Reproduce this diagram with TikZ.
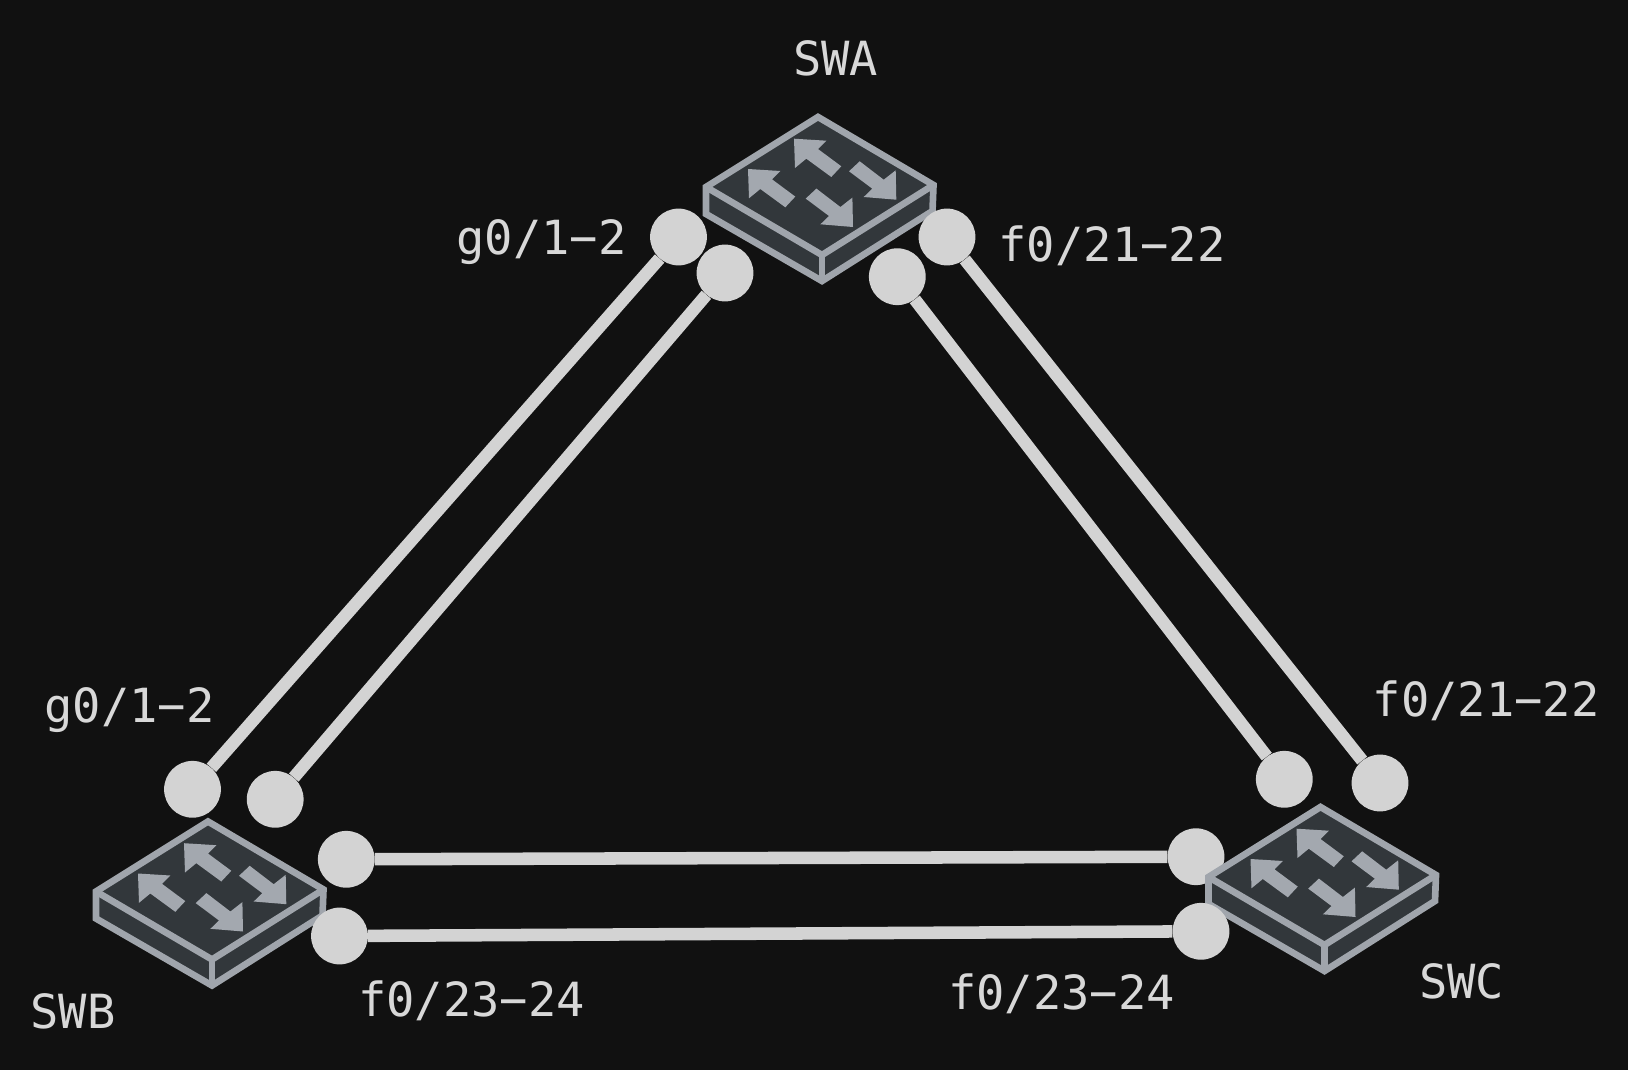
\documentclass[tikz,border=0pt]{standalone}
\usepackage{fontspec}
\setmonofont{DejaVu Sans Mono}
\definecolor{bgdark}{HTML}{111111}
\definecolor{portgray}{HTML}{D3D3D3}
\definecolor{labelgray}{HTML}{D8D8D8}
\definecolor{swedge}{HTML}{A0A5AC}
\definecolor{swbody}{HTML}{32373B}
\definecolor{swarrow}{HTML}{A3A8AF}
\tikzset{
	port/.style={circle,fill=portgray,inner sep=0pt,minimum size=42.6pt},
	link/.style={draw=portgray,line width=9.4pt},
	label/.style={text=labelgray,anchor=base,inner sep=0pt,font=\ttfamily\fontsize{35.3}{35.3}\selectfont},
	swface/.style={fill=swbody,draw=swedge,line width=5pt,line join=miter},
	swline/.style={draw=swedge,line width=5pt,line join=miter},
	swhead/.style={fill=swarrow}
}
\def\swarrowup#1#2{
	\fill[swhead,shift={(#1,#2)}] (-24,21.7) -- (8.3,23.7) -- (0,32) -- (23.3,49.3) -- (13.3,60) -- (-11.7,41.7) -- (-23,51) -- cycle;
}
\def\swarrowdown#1#2{
	\fill[swhead,shift={(#1,#2)}] (78.3,82.7) -- (45.7,80) -- (54.3,71.7) -- (31,54.3) -- (41.7,44.3) -- (65.7,62.7) -- (77.7,53.3) -- cycle;
}
\def\switchicon#1#2{
	\begin{scope}[shift={(#1,#2)}]
		\filldraw[swface] (0,0) -- (115.5,68) -- (114.5,94) -- (4,164) -- (-112,97) -- (-112,70) -- cycle;
		\draw[swline] (-112,70) -- (4,138) -- (115.5,68);
		\draw[swline] (4,138) -- (4,164);
		\swarrowup{0}{0}
		\swarrowup{-46}{30.3}
		\swarrowdown{0}{0}
		\swarrowdown{-43.3}{27.3}
	\end{scope}
}
\begin{document}
\begin{tikzpicture}[x=0.75pt,y=-0.75pt]
\fill[bgdark] (0,0) rectangle (1628,1070);
\useasboundingbox (0,0) rectangle (1628,1070);
\path (835.5,75.8) node(LabelA) [label] {SWA}
		(541.5,254) node(LabelAg) [label] {g0/1−2}
		(1112,261.6) node(LabelAf) [label] {f0/21−22}
		(129.5,722.7) node(LabelBg) [label] {g0/1−2}
		(471.5,1016) node(LabelBf) [label] {f0/23−24}
		(73,1028.5) node(LabelB) [label] {SWB}
		(1061.5,1009) node(LabelCf) [label] {f0/23−24}
		(1486,716.7) node(LabelCg) [label] {f0/21−22}
		(1461.5,998.3) node(LabelC) [label] {SWC};
\switchicon{818}{117}
\switchicon{208}{821.5}
\path (1196,856.7) node(PortC3) [port] {};
\switchicon{1320.5}{807}
\path (678.5,237) node(PortA1) [port] {}
		(725,273) node(PortA2) [port] {}
		(947,237) node(PortA3) [port] {}
		(897.3,276.7) node(PortA4) [port] {}
		(192.5,789.3) node(PortB1) [port] {}
		(275.2,799.3) node(PortB2) [port] {}
		(346.3,859.3) node(PortB3) [port] {}
		(339.5,936) node(PortB4) [port] {}
		(1284.3,779.3) node(PortC2) [port] {}
		(1380,783) node(PortC1) [port] {}
		(1201,931.3) node(PortC4) [port] {};
\draw[link] (PortA1) -- (PortB1);
\draw[link] (PortA2) -- (PortB2);
\draw[link] (PortA3) -- (PortC1);
\draw[link] (PortA4) -- (PortC2);
\draw[link] (PortB3) -- (PortC3);
\draw[link] (PortB4) -- (PortC4);
\end{tikzpicture}
\end{document}
